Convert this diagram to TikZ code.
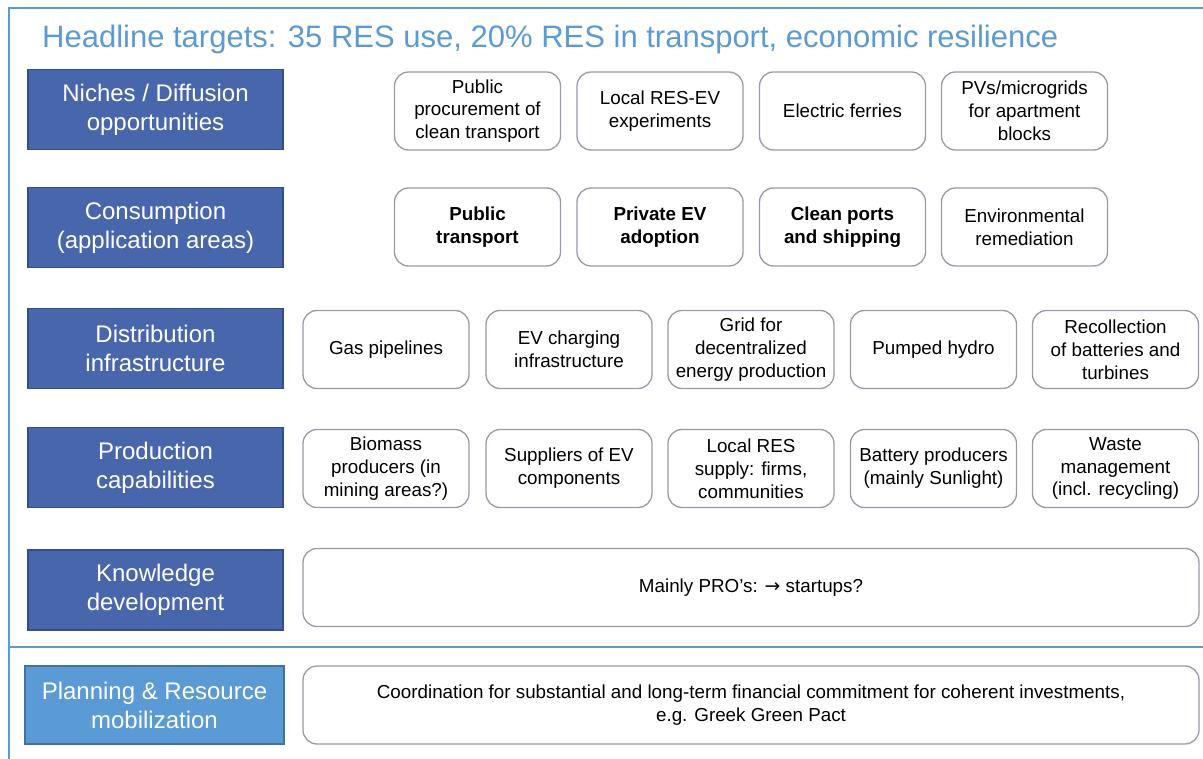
\documentclass[tikz,border=0pt]{standalone}
\usepackage{fontspec}
\setmainfont{Liberation Sans}
\newfontfamily\arrowfont{DejaVu Sans}

\definecolor{titleblue}{RGB}{91,155,213}
\definecolor{layerfill}{RGB}{72,102,172}
\definecolor{layerline}{RGB}{52,78,140}
\definecolor{planline}{RGB}{65,113,156}
\definecolor{itemline}{RGB}{160,150,172}

\begin{document}
\begin{tikzpicture}[x=1pt,y=-1pt]
% Box styles
\tikzset{
    layer/.style={draw=layerline, fill=layerfill, line width=1.2pt, text=white,
        align=center, inner sep=0pt, minimum width=255pt, minimum height=80pt,
        font=\fontsize{24}{29}\selectfont},
    planning/.style={fill=titleblue, draw=planline, minimum width=259pt, minimum height=78pt},
    item/.style={draw=itemline, line width=1.3pt, rounded corners=14pt, fill=white,
        align=center, inner sep=0pt, minimum width=166pt, minimum height=78pt,
        font=\fontsize{18.8}{22.8}\selectfont},
    wide/.style={item, minimum width=896pt}
}
\useasboundingbox (0,0) rectangle (1203,759);

% Frame
\draw[titleblue, line width=1.5pt] (9,759) -- (9,8) -- (1203,8);
\draw[titleblue, line width=1.5pt] (9,647) -- (1203,647);

% Headline
\node[anchor=base west, inner sep=0pt, text=titleblue, font=\fontsize{31}{37}\selectfont] (headline) at (42,48)
    {Headline targets: 35 RES use, 20\% RES in transport, economic resilience};

% Layers
\node[layer] (niches) at (155.5,109.5) {Niches / Diffusion\\opportunities};
\node[layer] (consumption) at (155.5,227.5) {Consumption\\(application areas)};
\node[layer] (distribution) at (155.5,348.5) {Distribution\\infrastructure};
\node[layer] (production) at (155.5,467.5) {Production\\capabilities};
\node[layer] (knowledge) at (155.5,590) {Knowledge\\development};
\node[layer, planning] (planning) at (154.5,705) {Planning \& Resource\\mobilization};

% Niches
\node[item] (procure) at (477.5,111) {Public\\procurement of\\clean transport};
\node[item] (experiments) at (660,111) {Local RES-EV\\experiments};
\node[item] (ferries) at (842.5,111) {Electric ferries};
\node[item] (microgrids) at (1024.5,111) {PVs/microgrids\\for apartment\\blocks};

% Consumption
\node[item, font=\fontsize{18.8}{22.8}\selectfont\bfseries] (publictr) at (477.5,227) {Public\\transport};
\node[item, font=\fontsize{18.8}{22.8}\selectfont\bfseries] (privateev) at (660,227) {Private EV\\adoption};
\node[item, font=\fontsize{18.8}{22.8}\selectfont\bfseries] (ports) at (842.5,227) {Clean ports\\and shipping};
\node[item] (remediation) at (1024.5,227) {Environmental\\remediation};

% Distribution
\node[item] (pipelines) at (386,349.5) {Gas pipelines};
\node[item] (charging) at (569,349.5) {EV charging\\infrastructure};
\node[item] (grid) at (751,349.5) {Grid for\\decentralized\\energy production};
\node[item] (hydro) at (933.5,349.5) {Pumped hydro};
\node[item] (recollect) at (1115.5,349.5) {Recollection\\of batteries and\\turbines};

% Production
\node[item] (biomass) at (386,468.5) {Biomass\\producers (in\\mining areas?)};
\node[item] (suppliers) at (569,468.5) {Suppliers of EV\\components};
\node[item] (localres) at (751,468.5) {Local RES\\supply: firms,\\communities};
\node[item] (battery) at (933.5,468.5) {Battery producers\\(mainly Sunlight)};
\node[item] (waste) at (1115.5,468.5) {Waste\\management\\(incl. recycling)};

% Knowledge and planning
\node[wide] (pros) at (751,587.5) {Mainly PRO's: {\arrowfont\char"2192} startups?};
\node[wide] (coord) at (751,705) {Coordination for substantial and long-term financial commitment for coherent investments,\\e.g. Greek Green Pact};
\end{tikzpicture}
\end{document}
